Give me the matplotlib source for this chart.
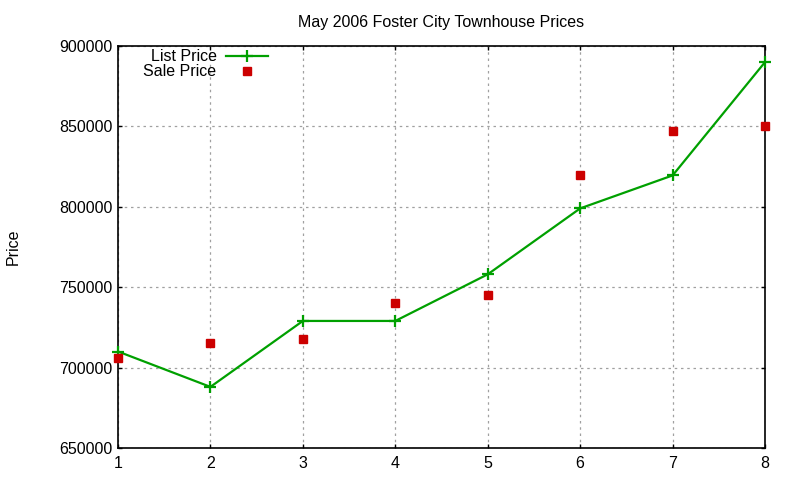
import matplotlib
matplotlib.use('Agg')
import matplotlib.pyplot as plt

# data
units = [1, 2, 3, 4, 5, 6, 7, 8]
list_price = [710000, 688000, 729000, 729000, 758000, 799000, 819500, 890000]
sale_price = [706000, 715000, 718000, 740000, 745000, 820000, 847000, 850000]
y_ticks = [650000, 700000, 750000, 800000, 850000, 900000]

plt.rcParams['font.family'] = ['Liberation Sans', 'DejaVu Sans']

fig = plt.figure(figsize=(8, 4.8), dpi=100)
ax = fig.add_axes([0.1475, 0.0667, 0.8088, 0.8375])

ax.plot(units, list_price, color='#00a000', linewidth=1.6, marker='+',
        markersize=8, markeredgewidth=1.6, label='List Price', clip_on=False, zorder=3)
ax.plot(units, sale_price, linestyle='none', color='#cc0000', marker='s',
        markersize=6, label='Sale Price', clip_on=False, zorder=4)

ax.set_xlim(1, 8)
ax.set_ylim(650000, 900000)
ax.set_xticks(units)
ax.set_yticks(y_ticks)
ax.tick_params(direction='in', length=3, width=1, labelsize=11.5, pad=4,
               top=True, right=True, colors='black')
ax.tick_params(axis='x', pad=6)
ax.grid(True, color='#a0a0a0', linestyle=(0, (2, 3)), linewidth=0.9)
for s in ax.spines.values():
    s.set_linewidth(1.2)

ax.set_title('May 2006 Foster City Townhouse Prices', fontsize=11.5, pad=14)
ax.set_ylabel('Price', fontsize=11.5)
ax.yaxis.set_label_coords(-0.15, 0.5)

leg = ax.legend(loc='upper left', bbox_to_anchor=(0.022, 1.02), frameon=False,
                markerfirst=False, fontsize=11.5, handlelength=2.6,
                handletextpad=0.6, labelspacing=0.0, borderaxespad=0.3)
for t in leg.get_texts():
    t.set_ha('right')
leg._legend_box.align = 'right'
ax.set_axisbelow(True)

fig.savefig('out.png', dpi=100)
